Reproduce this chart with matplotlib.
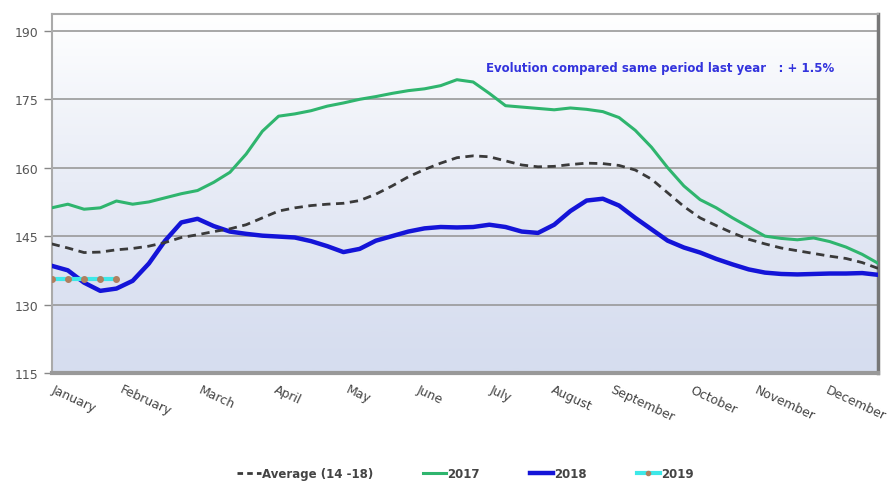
import numpy as np
import matplotlib.pyplot as plt
from matplotlib.colors import LinearSegmentedColormap
from matplotlib.lines import Line2D

months = ['January', 'February', 'March', 'April', 'May', 'June', 'July',
          'August', 'September', 'October', 'November', 'December']

# weekly values (52 weeks)
avg_14_18 = [143.3, 142.4, 141.4, 141.5, 142.0, 142.3, 142.8, 143.6, 144.7, 145.3,
             146.0, 146.6, 147.5, 149.0, 150.5, 151.2, 151.7, 152.0, 152.2, 152.8,
             154.2, 156.0, 158.0, 159.6, 161.0, 162.2, 162.6, 162.4, 161.5, 160.6,
             160.2, 160.3, 160.7, 161.0, 160.9, 160.5, 159.5, 157.5, 154.5, 151.5,
             149.0, 147.3, 145.7, 144.3, 143.3, 142.4, 141.8, 141.2, 140.6, 140.1,
             139.2, 137.9]
y2017 = [151.2, 152.0, 150.9, 151.2, 152.7, 152.0, 152.5, 153.4, 154.3, 155.0,
         156.8, 159.0, 163.0, 168.0, 171.3, 171.8, 172.5, 173.5, 174.2, 175.0,
         175.6, 176.3, 176.9, 177.3, 178.0, 179.3, 178.8, 176.3, 173.6, 173.3,
         173.0, 172.7, 173.1, 172.8, 172.3, 171.0, 168.2, 164.5, 160.0, 156.0,
         153.0, 151.2, 149.0, 147.0, 145.0, 144.5, 144.2, 144.6, 143.8, 142.6,
         141.0, 139.0]
y2018 = [138.5, 137.5, 134.8, 133.0, 133.5, 135.2, 139.0, 144.0, 148.0, 148.8,
         147.2, 146.0, 145.5, 145.1, 144.9, 144.7, 143.9, 142.8, 141.5, 142.2,
         144.0, 145.0, 146.0, 146.7, 147.0, 146.9, 147.0, 147.5, 147.0, 146.0,
         145.7, 147.5, 150.5, 152.8, 153.2, 151.7, 149.0, 146.5, 144.0, 142.5,
         141.4, 140.0, 138.8, 137.7, 137.0, 136.7, 136.6, 136.7, 136.8, 136.8,
         136.9, 136.5]
y2019 = [135.5, 135.5, 135.5, 135.5, 135.5]

weeks = np.arange(len(y2017))
month_pos = 1.4 + 4.38 * np.arange(12)

fig = plt.figure(figsize=(8.9, 4.85), dpi=100)
ax = fig.add_axes([0.058, 0.229, 0.929, 0.74])

ymin, ymax = 115, 193.7
grad = np.linspace(0, 1, 256).reshape(-1, 1) ** 1.3
cmap = LinearSegmentedColormap.from_list('bg', ['#d6ddef', '#ffffff'])
ax.imshow(grad, aspect='auto', cmap=cmap, origin='lower',
          extent=[-0.5, 51.5, ymin, ymax], zorder=0)

ax.plot(weeks, y2017, color='#2fb56e', lw=2.2, zorder=3)
ax.plot(weeks, y2018, color='#1414d8', lw=3.2, zorder=4)
ax.plot(weeks, avg_14_18, color='#3a3a3a', lw=2, ls=(0, (3, 2)), zorder=5)
ax.plot(weeks[:len(y2019)], y2019, color='#3de8e8', lw=3, marker='o', ms=4,
        mfc='#b08060', mec='#b08060', zorder=6)

ax.set_xlim(0, 51)
ax.set_ylim(ymin, ymax)
ax.set_yticks([115, 130, 145, 160, 175, 190])
ax.grid(axis='y', color='#999999', lw=1.2, zorder=1)
ax.tick_params(axis='y', colors='#888888', labelcolor='#555555', labelsize=9, length=6, width=1)
ax.set_xticks(month_pos)
ax.set_xticklabels(months, rotation=-25, ha='center', va='top', fontsize=9, color='#444444')
ax.tick_params(axis='x', length=0, pad=7)

for s in ['top', 'left']:
    ax.spines[s].set_color('#aaaaaa')
    ax.spines[s].set_linewidth(1.5)
ax.spines['bottom'].set_color('#999999')
ax.spines['bottom'].set_linewidth(3)
ax.spines['right'].set_color('#777777')
ax.spines['right'].set_linewidth(2.5)

ax.text(0.525, 0.84, 'Evolution compared same period last year   : + 1.5%',
        transform=ax.transAxes, color='#3333dd', fontsize=8.5, fontweight='bold')

handles = [Line2D([], [], color='#3a3a3a', lw=2, ls=(0, (2, 1.5))),
           Line2D([], [], color='#2fb56e', lw=2.2),
           Line2D([], [], color='#1414d8', lw=3.2),
           Line2D([], [], color='#3de8e8', lw=3, marker='o', ms=3,
                  mfc='#b08060', mec='#b08060')]
labels = ['Average (14 -18)', '2017', '2018', '2019']
leg = fig.legend(handles, labels, loc='center', bbox_to_anchor=(0.523, 0.022), ncol=4,
                 frameon=False, handlelength=2.0, handletextpad=0.1, columnspacing=4.2,
                 prop={'weight': 'bold', 'size': 8.5})
for t in leg.get_texts():
    t.set_color('#444444')

fig.savefig('out.png', dpi=100)
